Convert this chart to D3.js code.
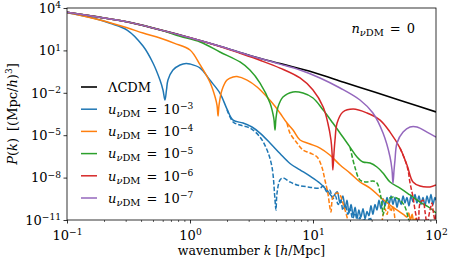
<!DOCTYPE html>
<html>
<head>
<meta charset="utf-8">
<script src="https://cdn.jsdelivr.net/npm/d3@7"></script>
<style>
  body { margin: 0; background: #fff; }
  svg { display: block; }
</style>
</head>
<body>
<div id="chart"></div>
<script>
// k in h/Mpc, P(k) stored as log10 values
var lcdmK    = [0.1, 0.178, 0.316, 0.562, 1, 1.78, 3.16, 5.62, 10, 17.8, 31.6, 56.2, 100];
var lcdmLogP = [3.7, 3.37, 3.0, 2.47, 1.9, 1.28, 0.6, 0.03, -0.55, -1.25, -1.95, -2.65, -3.35];

var u3K    = [0.1, 0.163, 0.224, 0.308, 0.415, 0.5, 0.57, 0.603, 0.626, 0.644, 0.662, 0.727, 0.83, 0.93, 1.0, 1.21, 1.45, 1.75, 2.0, 2.24, 2.7, 3.19, 3.71, 4.47, 5.39, 6.5, 7.84, 9.46, 11.4, 13.0, 14.5,
              15.7, 16.6, 17.5, 18.2, 18.9, 19.6, 20.4, 21.2, 22.0, 22.8, 23.6, 24.5, 25.5, 26.5, 27.5, 28.5, 29.6, 30.7, 31.9, 33.1, 34.4, 35.7, 37.1, 38.5, 40, 41.5, 43.1, 44.7, 46.4, 48.2, 50, 52, 54, 56, 58, 60.3, 62.6, 65, 67.5, 70, 72.7, 75.5, 78.4, 81.4, 84.5, 87.7, 91, 94.5, 98, 100];
var u3LogP = [3.67, 3.29, 2.92, 2.44, 1.31, 0.11, -1.1, -1.8, -2.51, -1.8, -1.1, -0.39, -0.03, 0.08, 0.04, -0.25, -1.1, -2.02, -3.15, -3.93, -4.14, -4.42, -4.85, -5.55, -6.3, -7.0, -7.45, -7.9, -8.4, -8.9, -9.35,
              -9.0, -9.8, -9.3, -10.2, -9.6, -10.5, -9.9, -10.7, -10.1, -10.9, -10.3, -10.8, -10.2, -10.9, -10.4, -10.7, -10.0, -10.6, -9.9, -10.3, -9.6, -10.2, -9.5, -10.0, -9.4, -9.9, -9.3, -9.9, -9.4, -10.1, -9.5, -9.9, -9.3, -9.8, -9.4, -10.0, -9.3, -9.7, -9.2, -9.8, -9.3, -9.9, -9.4, -10.0, -9.3, -9.8, -9.2, -9.9, -9.4, -9.6];
var u3dK    = [2.0, 2.24, 2.55, 3.07, 3.71, 4.23, 4.64, 4.91, 5.0, 5.1, 5.39, 5.7, 6.5, 7.41, 9.1, 11.4, 12.1, 13.0, 13.7, 14.5, 15.2, 16, 16.8, 17.5, 18.3, 19.2, 20, 21, 22, 23, 24, 25, 26, 27.5, 29, 30.5, 32];
var u3dLogP = [-3.2, -4.07, -4.28, -4.49, -5.13, -6.05, -7.25, -9.59, -10.3, -9.09, -8.17, -8.03, -8.31, -8.52, -8.66, -8.74, -8.6, -9.02, -8.9, -9.5, -9.3, -9.9, -9.6, -10.3, -9.9, -10.6, -10.2, -10.9, -10.5, -11.2, -10.8, -11.4, -10.9, -11.5, -10.8, -11.3, -11.6];

var u4K    = [0.1, 0.185, 0.308, 0.415, 0.57, 0.75, 1.0, 1.21, 1.45, 1.6, 1.66, 1.69, 1.72, 1.82, 2.0, 2.24, 2.41, 2.91, 3.51, 4.23, 4.91, 5.39, 6.15, 6.88, 7.84, 9.46, 11.4, 13.7, 16.6, 20, 24.1, 29.1, 35.1, 42.3, 51, 56, 58.1, 60, 62, 64, 66, 68, 70];
var u4LogP = [3.68, 3.15, 2.6, 2.23, 1.88, 1.5, 1.03, -0.03, -1.24, -2.3, -2.9, -3.64, -2.9, -1.8, -1.1, -0.88, -0.85, -1.1, -1.59, -2.3, -2.95, -3.43, -4.14, -4.63, -5.34, -5.62, -5.91, -6.4, -7.11, -7.68, -8.31, -8.74, -9.37, -9.94, -10.44, -10.7, -10.79, -10.5, -11.0, -10.6, -11.2, -10.9, -11.5];
var u4dK    = [6.15, 6.5, 7.41, 8.3, 9.46, 10.8, 11.8, 12.5, 13.2, 13.7, 14.0, 14.5, 15.7, 16.6, 17.5, 18.9, 19.5, 25, 35, 37.1, 38.5, 40, 41.5, 43, 44.7, 46.4, 48.2];
var u4dLogP = [-4.14, -4.85, -5.55, -6.05, -6.26, -6.54, -7.25, -8.17, -9.09, -10.08, -10.44, -9.4, -9.09, -9.23, -9.8, -10.79, -11.3, -12, -11.5, -10.65, -10.2, -10.6, -9.9, -10.4, -10.0, -10.9, -11.4];

var u5K    = [0.1, 0.178, 0.316, 0.562, 0.83, 1.21, 1.75, 2.55, 3.07, 3.71, 4.47, 4.8, 4.91, 5.0, 5.19, 5.7, 6.88, 8.3, 10, 12.1, 14.5, 17.5, 20, 22.8, 25.5, 29.1, 33.1, 37.1, 42.3, 51, 61.5, 74.2, 89.4, 100];
var u5LogP = [3.7, 3.37, 3.0, 2.47, 2.0, 1.59, 0.89, 0.18, -0.39, -1.31, -2.72, -3.8, -4.63, -3.8, -3.01, -2.3, -1.94, -2.02, -2.37, -3.22, -4.14, -5.13, -5.84, -6.54, -6.9, -6.97, -7.25, -7.68, -8.31, -8.74, -9.23, -9.73, -10.15, -10.51];
var u5dK    = [20, 21.9, 24.1, 27.5, 30.7, 33.1, 35.1, 36.4, 37.1, 38.5, 40, 44.7, 51, 56, 59.2, 61.5];
var u5dLogP = [-5.84, -7.25, -8.17, -8.31, -8.24, -8.38, -9.09, -9.9, -10.65, -9.9, -9.59, -9.37, -9.59, -10.08, -10.79, -11.4];

var u6K    = [0.1, 0.178, 0.316, 0.562, 1, 1.78, 2.55, 3.71, 5.39, 7.84, 10, 12.1, 13.2, 14.0, 14.3, 14.5, 14.8, 15.1, 15.7, 17.5, 21.2, 27.5, 35.1, 42.3, 51.0, 58.1, 65.0, 74.2, 89.4, 100];
var u6LogP = [3.7, 3.37, 3.0, 2.47, 1.9, 1.26, 0.8, 0.3, -0.25, -0.95, -1.8, -3.0, -4.14, -5.34, -6.3, -7.46, -6.3, -5.34, -4.14, -3.36, -3.15, -3.43, -3.93, -4.78, -5.91, -7.11, -8.31, -8.6, -8.66, -8.52];
var u6dK    = [51.0, 56.0, 59.2, 61.5, 65.0, 67.5, 70.1, 72, 74.2, 78.4, 81.4, 84.5, 89.4, 92.8, 94.6, 98.2, 100];
var u6dLogP = [-5.91, -6.76, -7.46, -8.38, -9.37, -10.3, -11.0, -11.4, -9.8, -9.6, -10.4, -11.2, -10.3, -9.8, -10.3, -11.0, -10.6];

var u7K    = [0.1, 0.178, 0.316, 0.562, 1, 1.78, 3.16, 5.39, 7.84, 11.4, 16.6, 24.1, 30.7, 37.1, 42.3, 43.9, 44.7, 45.6, 46.4, 48.2, 54.0, 61.5, 70.1, 84.5, 100];
var u7LogP = [3.7, 3.37, 3.0, 2.47, 1.9, 1.28, 0.6, 0.03, -0.39, -0.95, -1.66, -2.51, -3.43, -4.85, -6.54, -7.46, -8.4, -7.46, -6.76, -5.55, -4.78, -4.42, -4.42, -4.78, -5.13];

var uExps = ["−3", "−4", "−5", "−6", "−7"];
var colors = ["#1f77b4", "#ff7f0e", "#2ca02c", "#d62728", "#9467bd"];

var series = [
  {k: lcdmK, p: lcdmLogP, color: "black", dash: null, w: 1.6},
  {k: u3K, p: u3LogP, color: colors[0], dash: null},
  {k: u3dK, p: u3dLogP, color: colors[0], dash: "4.5,2"},
  {k: u4K, p: u4LogP, color: colors[1], dash: null},
  {k: u4dK, p: u4dLogP, color: colors[1], dash: "4.5,2"},
  {k: u5K, p: u5LogP, color: colors[2], dash: null},
  {k: u5dK, p: u5dLogP, color: colors[2], dash: "4.5,2"},
  {k: u6K, p: u6LogP, color: colors[3], dash: null},
  {k: u6dK, p: u6dLogP, color: colors[3], dash: "4.5,2"},
  {k: u7K, p: u7LogP, color: colors[4], dash: null}
];

var width = 450, height = 260;
var margin = {left: 67, right: 14, top: 8, bottom: 40};
var fs = 13;
var font = "'DejaVu Serif', serif";

var svg = d3.select("#chart").append("svg")
  .attr("width", width)
  .attr("height", height)
  .style("font-family", font);

var x = d3.scaleLog().domain([0.1, 100]).range([margin.left, width - margin.right]);
var y = d3.scaleLog().domain([1e-11, 1e4]).range([height - margin.bottom, margin.top]);

// mixed italic / sub / sup text; base = vertical offset of the baseline
function addMath(text, parts, base) {
  var size = fs;
  var shift = -(base || 0);
  parts.forEach(function(p) {
    var target = p.sup ? -0.36 * size : (p.sub ? 0.24 * size : 0);
    var ts = text.append("tspan").text(p.t).attr("dy", target - shift);
    shift = target;
    if (p.dx) ts.attr("dx", p.dx);
    if (p.sup) ts.style("font-size", (size * 0.7) + "px");
    if (p.sub) ts.style("font-size", (size * 0.76) + "px");
    if (p.it) ts.style("font-style", "italic");
  });
}

function expLabel(d) {
  var e = Math.round(Math.log10(d));
  return String(e).replace("-", "−");
}

svg.append("clipPath").attr("id", "plotclip")
  .append("rect")
  .attr("x", margin.left).attr("y", margin.top)
  .attr("width", width - margin.left - margin.right)
  .attr("height", height - margin.top - margin.bottom);

// minor x ticks
var minorX = [];
[0.1, 1, 10].forEach(function(dec) {
  for (var m = 2; m <= 9; m++) minorX.push(dec * m);
});

var xMinor = svg.append("g")
  .attr("transform", "translate(0," + (height - margin.bottom) + ")")
  .call(d3.axisBottom(x).tickValues(minorX).tickSize(2).tickFormat(""));
xMinor.select(".domain").remove();
xMinor.selectAll("line").attr("stroke-width", 0.6);

var xAxis = svg.append("g")
  .attr("transform", "translate(0," + (height - margin.bottom) + ")")
  .call(d3.axisBottom(x).tickValues([0.1, 1, 10, 100]).tickSize(3.5).tickPadding(8.3).tickSizeOuter(0));
xAxis.select(".domain").remove();
xAxis.attr("font-family", font).attr("font-size", fs);
xAxis.selectAll("line").attr("stroke-width", 0.8);
xAxis.selectAll(".tick text").text(null).attr("fill", "black").attr("dy", null).each(function(d) {
  addMath(d3.select(this), [{t: "10"}, {t: expLabel(d), sup: true}], 8.0);
});

var yAxis = svg.append("g")
  .attr("transform", "translate(" + margin.left + ",0)")
  .call(d3.axisLeft(y).tickValues([1e-11, 1e-8, 1e-5, 1e-2, 1e1, 1e4]).tickSize(3.5).tickPadding(2.5).tickSizeOuter(0));
yAxis.select(".domain").remove();
yAxis.attr("font-family", font).attr("font-size", fs);
yAxis.selectAll("line").attr("stroke-width", 0.8);
yAxis.selectAll(".tick text").text(null).attr("fill", "black").attr("dy", null).each(function(d) {
  addMath(d3.select(this), [{t: "10"}, {t: expLabel(d), sup: true}], 4.3);
});

// curves
var line = d3.line()
  .x(function(d) { return x(d[0]); })
  .y(function(d) { return y(Math.pow(10, d[1])); })
  .curve(d3.curveCatmullRom.alpha(0.5));

var plot = svg.append("g").attr("clip-path", "url(#plotclip)");

series.forEach(function(s) {
  var pts = s.k.map(function(k, i) { return [k, s.p[i]]; });
  plot.append("path")
    .datum(pts)
    .attr("d", line)
    .attr("fill", "none")
    .attr("stroke", s.color)
    .attr("stroke-width", s.w || 1.5)
    .attr("stroke-dasharray", s.dash)
    .attr("stroke-linejoin", "round");
});

// frame
svg.append("rect")
  .attr("x", margin.left).attr("y", margin.top)
  .attr("width", width - margin.left - margin.right)
  .attr("height", height - margin.top - margin.bottom)
  .attr("fill", "none")
  .attr("stroke", "black")
  .attr("stroke-width", 0.8);

// axis labels
var xl = svg.append("text")
  .attr("x", (margin.left + width - margin.right) / 2)
  .attr("y", 255)
  .attr("text-anchor", "middle")
  .style("font-size", "12.5px");
addMath(xl, [{t: "wavenumber "}, {t: "k", it: true}, {t: " ["}, {t: "h", it: true}, {t: "/Mpc]"}]);

var yl = svg.append("text")
  .attr("transform", "translate(17,114)rotate(-90)")
  .attr("text-anchor", "middle")
  .style("font-size", fs + "px");
addMath(yl, [{t: "P", it: true}, {t: "("}, {t: "k", it: true}, {t: ")"}, {t: "[(Mpc/", dx: 7}, {t: "h", it: true}, {t: ")"}, {t: "3", sup: true}, {t: "]"}]);

// annotation
var ann = svg.append("text")
  .attr("x", 415).attr("y", 33)
  .attr("text-anchor", "end")
  .style("font-size", fs + "px");
addMath(ann, [{t: "n", it: true}, {t: "ν", it: true, sub: true}, {t: "DM", sub: true}, {t: "=", dx: 6}, {t: "0", dx: 6}]);

// legend
var legend = svg.append("g").attr("class", "legend");
var legendColors = ["black"].concat(colors);
legendColors.forEach(function(c, i) {
  var ly = 87 + i * 22.2;
  legend.append("line")
    .attr("x1", 81).attr("x2", 97)
    .attr("y1", ly).attr("y2", ly)
    .attr("stroke", c)
    .attr("stroke-width", i === 0 ? 1.6 : 1.5);
  var t = legend.append("text")
    .attr("x", 108).attr("y", ly + 4.7)
    .style("font-size", fs + "px");
  if (i === 0) {
    t.text("ΛCDM");
  } else {
    addMath(t, [{t: "u", it: true}, {t: "ν", it: true, sub: true}, {t: "DM", sub: true}, {t: "=", dx: 6}, {t: "10", dx: 6}, {t: uExps[i - 1], sup: true}]);
  }
});
</script>
</body>
</html>
